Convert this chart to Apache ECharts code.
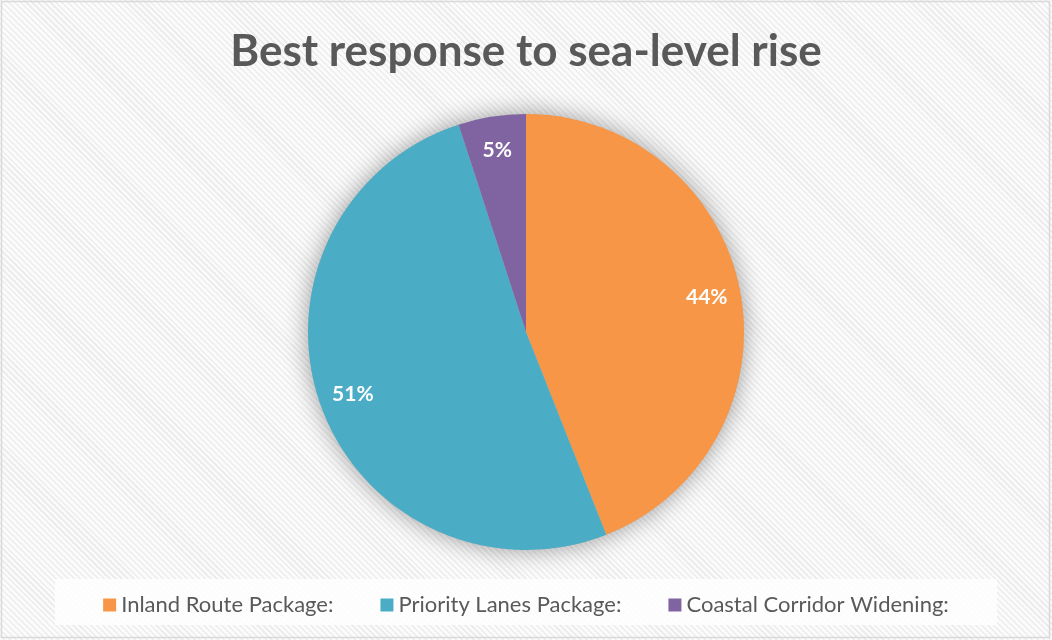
<!DOCTYPE html>
<html>
<head>
<meta charset="utf-8">
<script src="https://cdn.jsdelivr.net/npm/echarts@6/dist/echarts.min.js"></script>
<style>
  html, body { margin: 0; padding: 0; }
  #chart {
    width: 1052px; height: 640px;
    background: repeating-linear-gradient(45deg, #fbfbfb 0px, #fbfbfb 2.6px, #ededed 2.6px, #ededed 4.2px);
  }
</style>
</head>
<body>
<div id="chart"></div>
<script>
const titleText = 'Best response to sea-level rise';
const categories = ['Inland Route Package:', 'Priority Lanes Package:', 'Coastal Corridor Widening:'];
const shares = [44, 51, 5];
const colors = ['#F79646', '#4BACC6', '#8064A2'];

const FONT = 'Lato, "Open Sans", sans-serif';
const chart = echarts.init(document.getElementById('chart'), null, { renderer: 'canvas' });

const sliceData = categories.map((name, i) => ({ name, value: shares[i], itemStyle: { color: colors[i] } }));

chart.setOption({
  backgroundColor: 'transparent',
  animation: false,
  title: {
    text: titleText,
    left: 'center',
    top: 25,
    textStyle: { fontFamily: FONT, fontSize: 44, fontWeight: 'bold', color: '#595959' }
  },
  legend: {
    data: categories,
    left: 'center',
    top: 589,
    itemWidth: 13,
    itemHeight: 13,
    itemGap: 47,
    icon: 'rect',
    textStyle: { fontFamily: FONT, fontSize: 22, color: '#595959' }
  },
  graphic: [
    {
      type: 'rect', z: -10, silent: true,
      shape: { x: 55, y: 579, width: 942, height: 46 },
      style: { fill: 'rgba(255,255,255,0.8)' }
    },
    {
      type: 'rect', z: 100, silent: true,
      shape: { x: 1.5, y: 1.5, width: 1048, height: 636 },
      style: { fill: 'none', stroke: '#d9d9d9', lineWidth: 1.5 }
    }
  ],
  series: [
    {
      // soft drop shadow beneath the slices
      type: 'pie', silent: true, z: 1,
      center: [526, 332], radius: 218,
      label: { show: false }, labelLine: { show: false },
      legendHoverLink: false,
      itemStyle: { color: '#bbbbbb', shadowBlur: 24, shadowColor: 'rgba(0,0,0,0.38)' },
      data: [{ name: '', value: 1 }]
    },
    {
      name: titleText,
      type: 'pie', z: 2,
      center: [526, 332], radius: 218,
      startAngle: 90, clockwise: true,
      label: { show: false }, labelLine: { show: false },
      itemStyle: { borderWidth: 0 },
      data: sliceData
    },
    {
      // ring used only to place the percentage labels near the rim
      type: 'pie', z: 3, silent: true,
      center: [526, 332], radius: [144, 218],
      startAngle: 90, clockwise: true,
      legendHoverLink: false,
      itemStyle: { color: 'rgba(0,0,0,0)' },
      label: {
        show: true, position: 'inside',
        formatter: p => p.value + '%',
        fontFamily: FONT, fontSize: 21, fontWeight: 'bold', color: '#ffffff'
      },
      labelLine: { show: false },
      data: categories.map((name, i) => ({ name: 'lbl' + i, value: shares[i] }))
    }
  ]
});
</script>
</body>
</html>
